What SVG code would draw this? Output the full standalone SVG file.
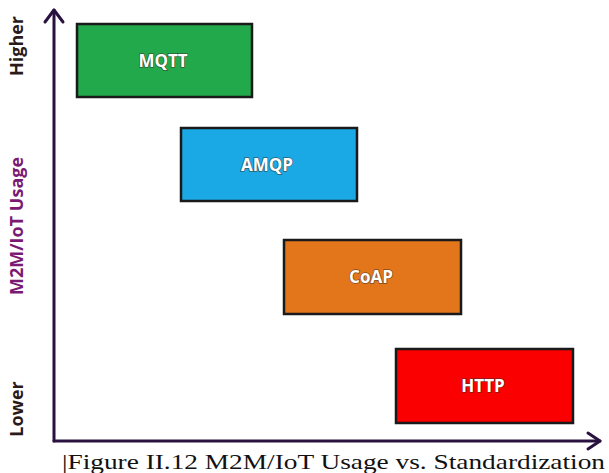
<svg xmlns="http://www.w3.org/2000/svg" width="609" height="473" viewBox="0 0 609 473">
  <style>
    .box { stroke: #1a1a1a; stroke-width: 2.5; }
    .lbl { font-family: "Open Sans", "Liberation Sans", sans-serif; font-weight: bold; font-size: 17px; fill: #ffffff; text-anchor: middle; dominant-baseline: central; paint-order: stroke; stroke: #3a2a20; stroke-width: 1.5; stroke-opacity: 0.6; }
    .axis { stroke: #2a1240; stroke-width: 3; fill: none; stroke-linecap: round; stroke-linejoin: round; }
    .ylab { font-family: "Open Sans", "Liberation Sans", sans-serif; font-weight: bold; font-size: 18px; text-anchor: middle; dominant-baseline: central; }
    .cap { font-family: "Liberation Serif", "Times New Roman", serif; font-size: 22px; fill: #111111; }
  </style>
  <rect width="609" height="473" fill="#ffffff"/>

  <g id="connectors">
    <!-- vertical axis with open arrowhead -->
    <path class="axis" d="M54,441 L54,10"/>
    <path class="axis" d="M45,22 L54,10 L63,22"/>
    <!-- horizontal axis with open arrowhead -->
    <path class="axis" d="M54,441 L600,441"/>
    <path class="axis" d="M588,433 L600,441 L588,449"/>
  </g>

  <g id="axis-labels">
    <text class="ylab" fill="#2a1a1a" transform="translate(16,46) rotate(-90)">Higher</text>
    <text class="ylab" fill="#7a1a72" transform="translate(16,226) rotate(-90)">M2M/IoT Usage</text>
    <text class="ylab" fill="#2a1a1a" transform="translate(16,409) rotate(-90)">Lower</text>
  </g>

  <g id="mqtt">
    <rect class="box" x="77" y="24" width="175" height="73" fill="#22a94c"/>
    <text class="lbl" x="163" y="60">MQTT</text>
  </g>
  <g id="amqp">
    <rect class="box" x="181" y="128" width="176" height="73" fill="#1ba9e6"/>
    <text class="lbl" x="267" y="164">AMQP</text>
  </g>
  <g id="coap">
    <rect class="box" x="284" y="240" width="177" height="74" fill="#e3761b"/>
    <text class="lbl" x="371" y="276">CoAP</text>
  </g>
  <g id="http">
    <rect class="box" x="396" y="349" width="177" height="74" fill="#fb0000"/>
    <text class="lbl" x="483" y="385">HTTP</text>
  </g>

  <text class="cap" x="62" y="469" textLength="543" lengthAdjust="spacingAndGlyphs">|Figure II.12 M2M/IoT Usage vs. Standardization</text>
</svg>
